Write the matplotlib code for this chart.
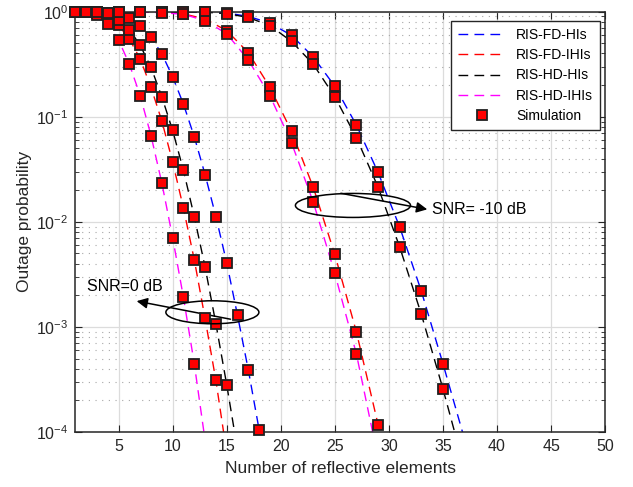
import numpy as np
import matplotlib
matplotlib.use('Agg')
import matplotlib.pyplot as plt
from matplotlib.lines import Line2D
from matplotlib.patches import Ellipse

plt.rcParams['font.family'] = ['Liberation Sans', 'DejaVu Sans']
plt.rcParams['mathtext.fontset'] = 'custom'
plt.rcParams['mathtext.rm'] = 'Liberation Sans'

# log10(outage probability)
# SNR = 0 dB, every N
n_fd_his_0 = np.arange(1, 20)
fd_his_0 = [0, -0.0005, -0.001, -0.008, -0.03, -0.06, -0.133, -0.245, -0.40, -0.62,
            -0.88, -1.19, -1.55, -1.95, -2.39, -2.89, -3.41, -3.98, -4.6]
n_fd_ihis_0 = np.arange(1, 16)
fd_ihis_0 = [0, -0.002, -0.01, -0.03, -0.13, -0.26, -0.45, -0.72, -1.04, -1.43,
             -1.87, -2.36, -2.92, -3.51, -4.2]
n_hd_his_0 = np.arange(1, 17)
hd_his_0 = [0, -0.001, -0.004, -0.015, -0.08, -0.17, -0.32, -0.53, -0.81, -1.13,
            -1.51, -1.95, -2.43, -2.97, -3.55, -4.17]
n_hd_ihis_0 = np.arange(1, 14)
hd_ihis_0 = [-0.001, -0.005, -0.035, -0.12, -0.27, -0.50, -0.80, -1.18, -1.63,
             -2.15, -2.72, -3.35, -4.08]

# SNR = -10 dB, odd N
n_fd_his_10 = np.arange(1, 38, 2)
fd_his_10 = [0, 0, 0, 0, -0.0005, -0.001, -0.003, -0.012, -0.045, -0.108,
             -0.226, -0.43, -0.71, -1.08, -1.53, -2.05, -2.66, -3.35, -4.07]
n_hd_his_10 = np.arange(1, 38, 2)
hd_his_10 = [0, 0, 0, 0, -0.001, -0.002, -0.005, -0.018, -0.055, -0.133,
             -0.283, -0.50, -0.81, -1.20, -1.67, -2.24, -2.88, -3.59, -4.35]
n_fd_ihis_10 = np.arange(1, 32, 2)
fd_ihis_10 = [0, 0, -0.0005, -0.002, -0.006, -0.02, -0.07, -0.18, -0.39, -0.72,
              -1.14, -1.67, -2.31, -3.05, -3.93, -4.9]
n_hd_ihis_10 = np.arange(1, 30, 2)
hd_ihis_10 = [0, -0.0005, -0.001, -0.003, -0.009, -0.025, -0.085, -0.21, -0.46,
              -0.80, -1.25, -1.81, -2.49, -3.26, -4.25]

series = [
    ('RIS-FD-HIs', '#0000ff', [(n_fd_his_0, fd_his_0), (n_fd_his_10, fd_his_10)]),
    ('RIS-FD-IHIs', '#ff0000', [(n_fd_ihis_0, fd_ihis_0), (n_fd_ihis_10, fd_ihis_10)]),
    ('RIS-HD-HIs', '#000000', [(n_hd_his_0, hd_his_0), (n_hd_his_10, hd_his_10)]),
    ('RIS-HD-IHIs', '#ff00ff', [(n_hd_ihis_0, hd_ihis_0), (n_hd_ihis_10, hd_ihis_10)]),
]

fig = plt.figure(figsize=(6.33, 4.87), dpi=100)
ax = fig.add_axes([0.119, 0.113, 0.837, 0.863])

dash = (7, 4.5)
for name, col, curves in series:
    for n, lp in curves:
        ax.semilogy(n, 10.0 ** np.array(lp), color=col, lw=1.0, dashes=dash)

# simulation points (only those inside the plotted range)
for name, col, curves in series:
    for n, lp in curves:
        lp = np.array(lp)
        keep = lp >= -4.0
        ax.semilogy(n[keep], 10.0 ** lp[keep], 's', ms=6.5, mfc='#ff0000', mec='#202020',
                    mew=1.3, ls='none', clip_on=False, zorder=5)

ax.set_xlim(1, 50)
ax.set_ylim(1e-4, 1)
ax.set_xticks(np.arange(5, 51, 5))

ax.grid(True, which='major', color='#dcdcdc', lw=0.9, ls='-')
ax.grid(True, which='minor', axis='y', color='#a8a8a8', lw=0.8, ls=(0, (1, 5)))
ax.set_axisbelow(True)

ax.tick_params(which='both', direction='in', top=True, right=True,
               labelsize=11.5, colors='#262626', pad=5)
ax.tick_params(which='major', length=5)
ax.tick_params(which='minor', length=3)
for s in ax.spines.values():
    s.set_color('#262626')
    s.set_linewidth(1.1)

ax.set_xlabel('Number of reflective elements', fontsize=12.5, color='#262626',
              labelpad=5)
ax.set_ylabel('Outage probability', fontsize=12.5, color='#262626', labelpad=3)

handles = [Line2D([], [], color=c, lw=1.0, dashes=dash) for _, c, _ in series]
handles.append(Line2D([], [], marker='s', ms=6.5, mfc='#ff0000', mec='#202020',
                      mew=1.3, ls='none'))
labels = [s[0] for s in series] + ['Simulation']
leg = ax.legend(handles, labels, loc='upper right', bbox_to_anchor=(0.9906, 0.978),
                borderaxespad=0, fontsize=10, handlelength=3.4, labelspacing=0.45,
                fancybox=False, framealpha=1, edgecolor='#262626', borderpad=0.5)
leg.get_frame().set_linewidth(1.0)

# SNR annotations
ax.add_patch(Ellipse((0.2587, 0.2848), 0.1756, 0.0547, transform=ax.transAxes,
                     fill=False, ec='k', lw=1.1, zorder=6))
ax.annotate('', xy=(6.42, 1.78e-3), xytext=(15.6, 1.17e-3),
            arrowprops=dict(arrowstyle='-|>', mutation_scale=16, lw=1.1, color='k'))
ax.text(2.04, 2.4e-3, 'SNR=0 dB', fontsize=11.5, va='center', ha='left')

ax.add_patch(Ellipse((0.524, 0.539), 0.2172, 0.0571, transform=ax.transAxes,
                     fill=False, ec='k', lw=1.1, zorder=6))
ax.annotate('', xy=(33.8, 0.013), xytext=(25.3, 0.0189),
            arrowprops=dict(arrowstyle='-|>', mutation_scale=16, lw=1.1, color='k'))
ax.text(34.0, 0.013, 'SNR= -10 dB', fontsize=11.5, va='center', ha='left')

fig.savefig('out.png', dpi=100)
